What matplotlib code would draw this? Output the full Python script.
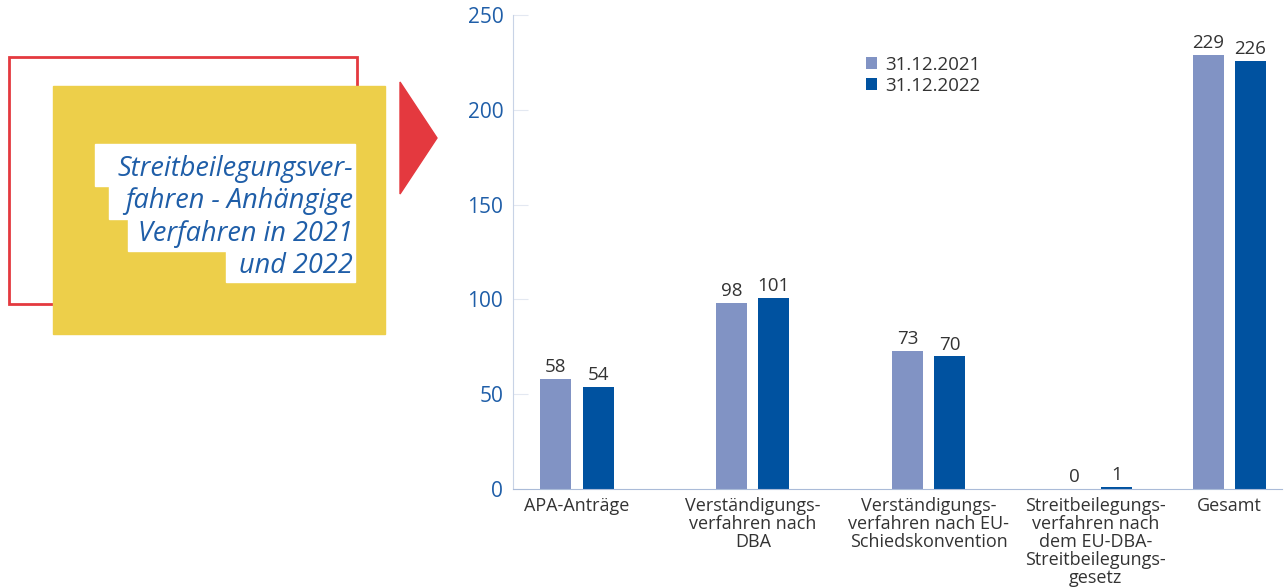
import numpy as np
import matplotlib
matplotlib.use("Agg")
import matplotlib.pyplot as plt
from matplotlib.patches import Rectangle, Polygon

plt.rcParams['font.family'] = ['Open Sans', 'DejaVu Sans']

categories = ["APA-Anträge",
              "Verständigungs-\nverfahren nach\nDBA",
              "Verständigungs-\nverfahren nach EU-\nSchiedskonvention",
              "Streitbeilegungs-\nverfahren nach\ndem EU-DBA-\nStreitbeilegungs-\ngesetz",
              "Gesamt"]
series_names = ["31.12.2021", "31.12.2022"]
values_2021 = [58, 98, 73, 0, 229]
values_2022 = [54, 101, 70, 1, 226]
yticks = [0, 50, 100, 150, 200, 250]

title_lines = ["Streitbeilegungsver-", "fahren - Anhängige", "Verfahren in 2021", "und 2022"]

W, H = 1288, 587
fig = plt.figure(figsize=(W / 100, H / 100), dpi=100)

# layout
pos = np.array([0, 1, 2, 2.95, 3.71])
bw = 0.176
off = 0.12
c1 = "#8193C4"
c2 = "#0052A0"
blue_txt = "#1F5EA8"

ax = fig.add_axes([513 / W, (H - 489) / H, (1282 - 513) / W, (489 - 15) / H])
b1 = ax.bar(pos - off, values_2021, bw, color=c1, label=series_names[0])
b2 = ax.bar(pos + off, values_2022, bw, color=c2, label=series_names[1])
ax.bar_label(b1, padding=2, fontsize=13.5, color="#333333")
ax.bar_label(b2, padding=2, fontsize=13.5, color="#333333")

ax.set_ylim(0, 250)
ax.set_xlim(-0.364, 4.01)
ax.set_yticks(yticks)
ax.set_xticks(pos)
ax.set_xticklabels(categories, fontsize=13, color="#333333", linespacing=1.0)
ax.tick_params(axis="x", length=0, pad=6)
ax.tick_params(axis="y", direction="in", length=11, color="#e3e8f1", labelsize=15,
               labelcolor=blue_txt, pad=7)
for s in ["top", "right"]:
    ax.spines[s].set_visible(False)
ax.spines["left"].set_color("#c8d3e6")
ax.spines["bottom"].set_color("#aabbd8")

fig.legend(handles=[b1, b2], loc="upper left", bbox_to_anchor=(849 / W, 1 - 39 / H),
           frameon=False, fontsize=13.5, handlelength=0.6, handleheight=0.6,
           handletextpad=0.45, labelspacing=0.15, labelcolor="#333333")

# decoration on the left, in pixel coordinates
def px(x, y):
    return (x / W, 1 - y / H)

fig.patches.append(Rectangle(px(9, 304), 348 / W, 247 / H, fill=False,
                             edgecolor="#E4393F", linewidth=2, transform=fig.transFigure))
fig.patches.append(Rectangle(px(53, 334), 332 / W, 248 / H, color="#EDCF4A",
                             transform=fig.transFigure))
fig.patches.append(Polygon([px(400, 82), px(437, 138), px(400, 194)], closed=True,
                           color="#E4393F", transform=fig.transFigure))
boxes = [(95, 144, 186), (109, 186, 219), (128, 219, 251), (226, 251, 282)]
for x0, y0, y1 in boxes:
    fig.patches.append(Rectangle(px(x0, y1), (355 - x0) / W, (y1 - y0) / H, color="white",
                                 transform=fig.transFigure))
line_y = [169, 201, 234, 266]
for txt, y in zip(title_lines, line_y):
    fig.text(353 / W, 1 - y / H, txt, ha="right", va="center", fontsize=19.5,
             style="italic", color="#1F5EA8")

fig.savefig("out.png", dpi=100)
